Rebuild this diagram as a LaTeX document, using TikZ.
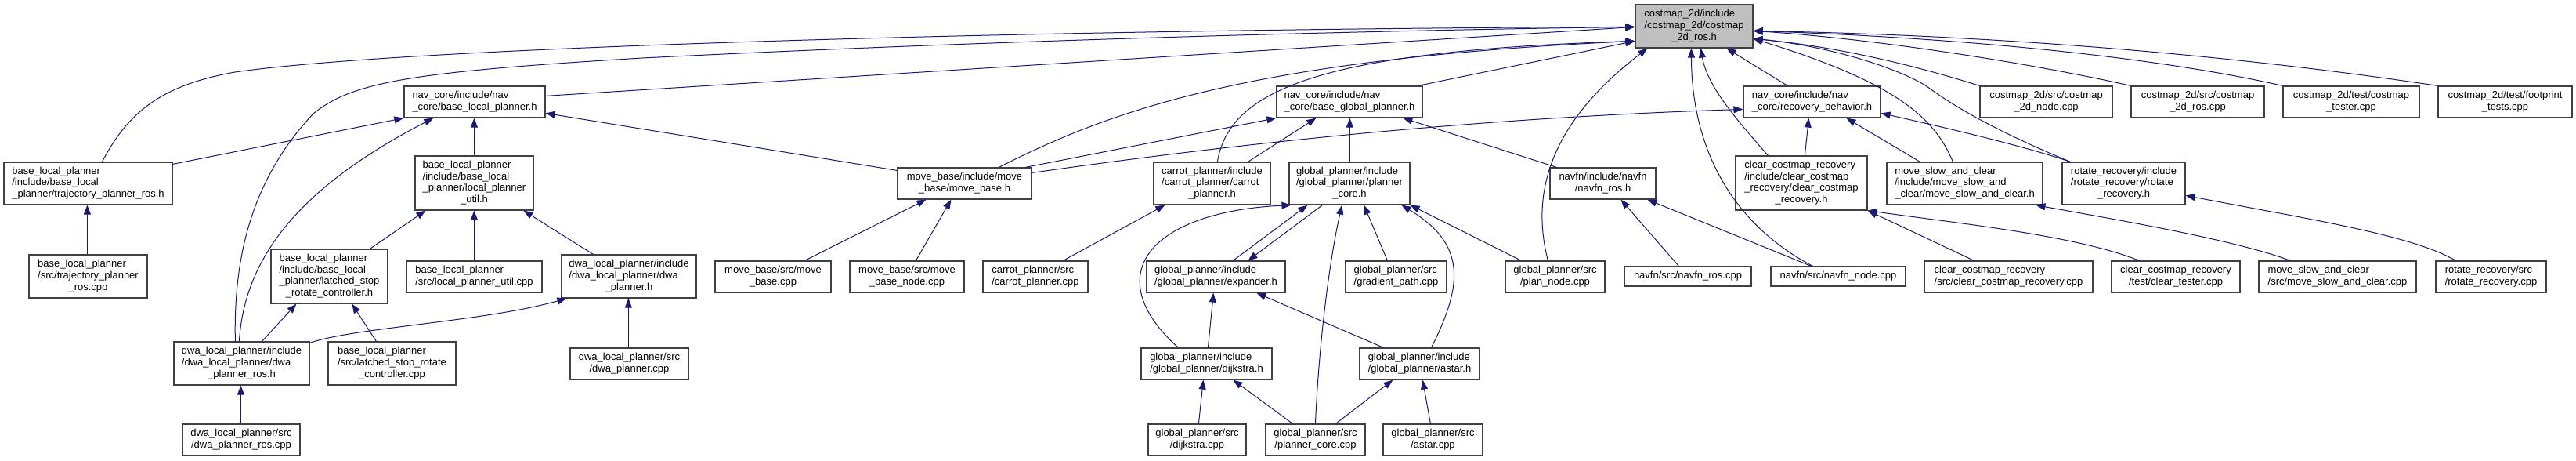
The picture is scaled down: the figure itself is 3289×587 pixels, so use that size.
\documentclass[tikz,border=0pt]{standalone}
\usepackage{fontspec}
\setmainfont{Liberation Sans}
\usetikzlibrary{arrows.meta,calc}
\definecolor{edgec}{HTML}{191970}
\definecolor{rootfill}{HTML}{BFBFBF}
\definecolor{boxline}{HTML}{404040}
\newcommand\lab[2]{\begin{tabular}{@{}l@{}}#1\\\multicolumn{1}{@{}c@{}}{#2}\end{tabular}}
\newcommand\nbox[7]{\node[#1,minimum width={(#5-#3)*1pt},minimum height={(#6-#4)*1pt}] (#2) at ({(#3+#5)/2},{(#4+#6)/2}) {#7};}
\begin{document}
\begin{tikzpicture}[x=1pt,y=-1pt,
 box/.style={draw=boxline,line width=1.2pt,fill=white,rectangle,inner sep=0pt,font=\fontsize{13}{14.7}\selectfont},
 rootbox/.style={box,fill=rootfill},
 edge/.style={draw=edgec,line width=1pt,-{Triangle[length=12pt,width=9pt]}}]
\useasboundingbox[fill=white] (0,0) rectangle (3289,587);
% row 0
\nbox{rootbox}{root}{2088}{6}{2238}{61}{\lab{costmap\_2d/include\\/costmap\_2d/costmap}{\_2d\_ros.h}}
% row 1
\nbox{box}{blp}{516}{110}{696}{150}{\lab{nav\_core/include/nav}{\_core/base\_local\_planner.h}}
\nbox{box}{bgp}{1630}{110}{1816}{150}{\lab{nav\_core/include/nav}{\_core/base\_global\_planner.h}}
\nbox{box}{rb}{2226}{110}{2401}{150}{\lab{nav\_core/include/nav}{\_core/recovery\_behavior.h}}
\nbox{box}{c2n}{2528}{110}{2697}{150}{\lab{costmap\_2d/src/costmap}{\_2d\_node.cpp}}
\nbox{box}{c2r}{2721}{110}{2891}{150}{\lab{costmap\_2d/src/costmap}{\_2d\_ros.cpp}}
\nbox{box}{ctest}{2915}{110}{3089}{150}{\lab{costmap\_2d/test/costmap}{\_tester.cpp}}
\nbox{box}{ftest}{3113}{110}{3284}{150}{\lab{costmap\_2d/test/footprint}{\_tests.cpp}}
% row 2
\nbox{box}{tprh}{5}{207}{220}{261}{\lab{base\_local\_planner\\/include/base\_local}{\_planner/trajectory\_planner\_ros.h}}
\nbox{box}{lpuh}{530}{199}{681}{268}{\lab{base\_local\_planner\\/include/base\_local\\\_planner/local\_planner}{\_util.h}}
\nbox{box}{mbh}{1146}{214}{1317}{254}{\lab{move\_base/include/move}{\_base/move\_base.h}}
\nbox{box}{cph}{1473}{207}{1622}{261}{\lab{carrot\_planner/include\\/carrot\_planner/carrot}{\_planner.h}}
\nbox{box}{pch}{1646}{207}{1800}{261}{\lab{global\_planner/include\\/global\_planner/planner}{\_core.h}}
\nbox{box}{nrh}{1979}{214}{2114}{254}{\lab{navfn/include/navfn}{/navfn\_ros.h}}
\nbox{box}{ccrh}{2216}{199}{2384}{268}{\lab{clear\_costmap\_recovery\\/include/clear\_costmap\\\_recovery/clear\_costmap}{\_recovery.h}}
\nbox{box}{msch}{2409}{207}{2608}{261}{\lab{move\_slow\_and\_clear\\/include/move\_slow\_and}{\_clear/move\_slow\_and\_clear.h}}
\nbox{box}{rrh}{2633}{207}{2790}{261}{\lab{rotate\_recovery/include\\/rotate\_recovery/rotate}{\_recovery.h}}
% row 3
\nbox{box}{tprc}{37}{325}{188}{380}{\lab{base\_local\_planner\\/src/trajectory\_planner}{\_ros.cpp}}
\nbox{box}{lsrh}{346}{318}{495}{387}{\lab{base\_local\_planner\\/include/base\_local\\\_planner/latched\_stop}{\_rotate\_controller.h}}
\nbox{box}{lpuc}{519}{333}{692}{373}{\lab{base\_local\_planner}{/src/local\_planner\_util.cpp}}
\nbox{box}{dph}{717}{325}{889}{380}{\lab{dwa\_local\_planner/include\\/dwa\_local\_planner/dwa}{\_planner.h}}
\nbox{box}{mbc}{913}{333}{1061}{373}{\lab{move\_base/src/move}{\_base.cpp}}
\nbox{box}{mbnc}{1085}{333}{1231}{373}{\lab{move\_base/src/move}{\_base\_node.cpp}}
\nbox{box}{cpc}{1255}{333}{1389}{373}{\lab{carrot\_planner/src}{/carrot\_planner.cpp}}
\nbox{box}{exph}{1464}{333}{1641}{373}{\lab{global\_planner/include}{/global\_planner/expander.h}}
\nbox{box}{gpc}{1718}{333}{1847}{373}{\lab{global\_planner/src}{/gradient\_path.cpp}}
\nbox{box}{pnc}{1922}{333}{2049}{373}{\lab{global\_planner/src}{/plan\_node.cpp}}
\nbox{box}{nrc}{2074}{340}{2236}{365}{navfn/src/navfn\_ros.cpp}
\nbox{box}{nnc}{2261}{340}{2433}{365}{navfn/src/navfn\_node.cpp}
\nbox{box}{ccrc}{2457}{333}{2672}{373}{\lab{clear\_costmap\_recovery}{/src/clear\_costmap\_recovery.cpp}}
\nbox{box}{ctc}{2696}{333}{2860}{373}{\lab{clear\_costmap\_recovery}{/test/clear\_tester.cpp}}
\nbox{box}{mscc}{2884}{333}{3085}{373}{\lab{move\_slow\_and\_clear}{/src/move\_slow\_and\_clear.cpp}}
\nbox{box}{rrc}{3110}{333}{3251}{373}{\lab{rotate\_recovery/src}{/rotate\_recovery.cpp}}
% row 4
\nbox{box}{dprh}{222}{436}{395}{491}{\lab{dwa\_local\_planner/include\\/dwa\_local\_planner/dwa}{\_planner\_ros.h}}
\nbox{box}{lsrc}{419}{436}{582}{491}{\lab{base\_local\_planner\\/src/latched\_stop\_rotate}{\_controller.cpp}}
\nbox{box}{dpc}{728}{444}{879}{484}{\lab{dwa\_local\_planner/src}{/dwa\_planner.cpp}}
\nbox{box}{djh}{1457}{444}{1624}{484}{\lab{global\_planner/include}{/global\_planner/dijkstra.h}}
\nbox{box}{ash}{1736}{444}{1889}{484}{\lab{global\_planner/include}{/global\_planner/astar.h}}
% row 5
\nbox{box}{dprc}{233}{541}{383}{581}{\lab{dwa\_local\_planner/src}{/dwa\_planner\_ros.cpp}}
\nbox{box}{djc}{1466}{541}{1591}{581}{\lab{global\_planner/src}{/dijkstra.cpp}}
\nbox{box}{pcc}{1616}{541}{1743}{581}{\lab{global\_planner/src}{/planner\_core.cpp}}
\nbox{box}{asc}{1766}{541}{1893}{581}{\lab{global\_planner/src}{/astar.cpp}}
% edges into root, from the left
\draw[edge] ($(tprh.north west)+(126,0)$) .. controls (165,140) and (210,108) .. (300,92) .. controls (560,55) and (1500,36) .. ($(root.north west)+(0,29)$);
\draw[edge] ($(dprh.north west)+(79,0)$) .. controls (298,330) and (320,230) .. (400,145) .. controls (450,105) and (520,92) .. (820,74) .. controls (1300,50) and (1800,38) .. ($(root.north west)+(0,29)$);
\draw[edge] ($(blp.north east)+(0,13)$) -- ($(root.north west)+(0,29)$);
\draw[edge] ($(mbh.north west)+(130,0)$) .. controls (1420,140) and (1600,75) .. ($(root.north west)+(0,47)$);
\draw[edge] ($(cph.north west)+(82,0)$) .. controls (1570,110) and (1700,65) .. ($(root.north west)+(0,47)$);
\draw[edge] ($(bgp.north west)+(181,0)$) -- ($(root.north west)+(0,47)$);
% edges into root, from below
\draw[edge] ($(pnc.north west)+(55,0)$) .. controls (1955,250) and (1975,160) .. ($(root.south west)+(16,0)$);
\draw[edge] ($(nnc.north west)+(54,0)$) .. controls (2220,290) and (2160,200) .. ($(root.south west)+(72,0)$);
\draw[edge] ($(ccrh.north west)+(42,0)$) .. controls (2215,150) and (2180,110) .. ($(root.south west)+(84,0)$);
\draw[edge] ($(rb.north west)+(57,0)$) -- ($(root.south west)+(117,0)$);
% edges into root, from the right
\draw[edge] (ftest.north west) .. controls (2850,70) and (2550,45) .. ($(root.north east)+(0,34)$);
\draw[edge] (ctest.north west) .. controls (2750,72) and (2500,48) .. ($(root.north east)+(0,34)$);
\draw[edge] (c2r.north west) .. controls (2600,82) and (2400,50) .. ($(root.north east)+(0,34)$);
\draw[edge] (c2n.north west) .. controls (2450,85) and (2350,60) .. ($(root.north east)+(0,44)$);
\draw[edge] ($(rrh.north west)+(11,0)$) .. controls (2560,172) and (2500,140) .. (2460,110) .. controls (2420,85) and (2330,58) .. ($(root.north east)+(0,44)$);
\draw[edge] ($(msch.north west)+(85,0)$) .. controls (2470,150) and (2420,105) .. ($(root.north east)+(0,44)$);
% recovery behavior
\draw[edge] ($(mbh.north east)+(0,7)$) .. controls (1600,180) and (1900,150) .. ($(rb.north west)+(0,30)$);
\draw[edge] ($(rrh.north west)+(11,0)$) .. controls (2580,185) and (2480,162) .. ($(rb.north east)+(0,35)$);
\draw[edge] ($(msch.north west)+(43,0)$) -- ($(rb.south west)+(132,0)$);
\draw[edge] ($(ccrh.north west)+(89,0)$) -- ($(rb.south west)+(84,0)$);
% local planner block
\draw[edge] ($(tprh.north east)+(0,3)$) -- (blp.south west);
\draw[edge] ($(tprc.north west)+(75,0)$) -- ($(tprh.south west)+(107,0)$);
\draw[edge] ($(lpuh.north west)+(76,0)$) -- ($(blp.south west)+(90,0)$);
\draw[edge] ($(dprh.north west)+(84,0)$) .. controls (312,330) and (380,240) .. ($(blp.south west)+(38,0)$);
\draw[edge] ($(mbh.north west)+(0,4)$) -- ($(blp.north east)+(0,35)$);
\draw[edge] ($(lsrh.north west)+(127,0)$) -- ($(lpuh.south west)+(14,0)$);
\draw[edge] ($(lpuc.north west)+(87,0)$) -- ($(lpuh.south west)+(76,0)$);
\draw[edge] ($(dph.north west)+(41,0)$) -- ($(lpuh.south west)+(139,0)$);
\draw[edge] ($(dprh.north west)+(113,0)$) -- ($(lsrh.south west)+(33,0)$);
\draw[edge] ($(lsrc.north west)+(62,0)$) -- ($(lsrh.south west)+(104,0)$);
\draw[edge] ($(dprh.north east)+(0,2)$) .. controls (450,418) and (620,410) .. ($(dph.south west)+(7,0)$);
\draw[edge] ($(dpc.north west)+(75,0)$) -- ($(dph.south west)+(86,0)$);
\draw[edge] ($(dprc.north west)+(75,0)$) -- ($(dprh.south west)+(86,0)$);
% global planner block
\draw[edge] ($(mbh.north west)+(164,0)$) -- (bgp.south west);
\draw[edge] ($(cph.north west)+(121,0)$) -- ($(bgp.south west)+(51,0)$);
\draw[edge] ($(pch.north west)+(78,0)$) -- ($(bgp.south west)+(94,0)$);
\draw[edge] ($(nrh.north west)+(9,0)$) -- ($(bgp.south west)+(162,0)$);
\draw[edge] ($(cpc.north west)+(103,0)$) -- ($(cph.south west)+(15,0)$);
\draw[edge] ($(mbc.north west)+(115,0)$) -- ($(mbh.south west)+(37,0)$);
\draw[edge] ($(mbnc.north west)+(85,0)$) -- ($(mbh.south west)+(69,0)$);
\draw[edge] ($(djh.north west)+(48,0)$) .. controls (1400,350) and (1470,270) .. ($(pch.south west)+(3,0)$);
\draw[edge] ($(exph.north west)+(111,0)$) -- ($(pch.south west)+(24,0)$);
\draw[edge] ($(pch.south west)+(43,0)$) -- ($(exph.north west)+(130,0)$);
\draw[edge] ($(pcc.north west)+(64,0)$) .. controls (1685,420) and (1700,320) .. ($(pch.south west)+(68,0)$);
\draw[edge] ($(gpc.north west)+(54,0)$) -- ($(pch.south west)+(96,0)$);
\draw[edge] ($(ash.north west)+(92,0)$) .. controls (1870,360) and (1870,310) .. ($(pch.south west)+(144,0)$);
\draw[edge] ($(pnc.north west)+(21,0)$) -- (pch.south east);
\draw[edge] ($(djh.north west)+(86,0)$) -- ($(exph.south west)+(86,0)$);
\draw[edge] ($(ash.north west)+(31,0)$) -- ($(exph.south west)+(141,0)$);
\draw[edge] ($(djc.north west)+(65,0)$) -- ($(djh.south west)+(80,0)$);
\draw[edge] ($(pcc.north west)+(35,0)$) -- ($(djh.south west)+(118,0)$);
\draw[edge] ($(pcc.north west)+(90,0)$) -- ($(ash.south west)+(43,0)$);
\draw[edge] ($(asc.north west)+(61,0)$) -- ($(ash.south west)+(81,0)$);
% navfn
\draw[edge] ($(nrc.north west)+(70,0)$) -- ($(nrh.south west)+(91,0)$);
\draw[edge] ($(nnc.north west)+(52,0)$) -- ($(nrh.south west)+(125,0)$);
% recovery sources
\draw[edge] ($(ccrc.north west)+(64,0)$) -- (ccrh.south east);
\draw[edge] ($(ctc.north west)+(36,0)$) .. controls (2650,300) and (2500,285) .. (ccrh.south east);
\draw[edge] ($(mscc.north west)+(41,0)$) .. controls (2850,305) and (2700,280) .. ($(msch.south west)+(191,0)$);
\draw[edge] ($(rrc.north west)+(26,0)$) .. controls (3080,300) and (2950,280) .. ($(rrh.north east)+(0,43)$);
\end{tikzpicture}
\end{document}
